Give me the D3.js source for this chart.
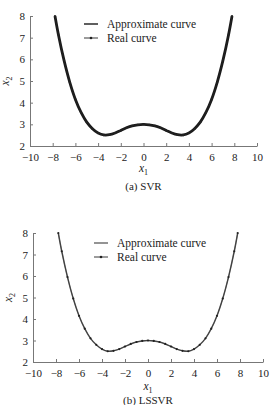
<!DOCTYPE html>
<html>
<head>
<meta charset="utf-8">
<script src="https://cdn.jsdelivr.net/npm/d3@7"></script>
<style>
  body { margin: 0; background: #fff; }
  svg { display: block; font-family: "Liberation Serif", "DejaVu Serif", serif; }
  .axis { font-family: "Liberation Serif", "DejaVu Serif", serif; }
  .axis .tick text { font-size: 11px; fill: #222; }
  .axis path, .axis line { stroke: #777; }
</style>
</head>
<body>
<svg id="chart" width="271" height="405"></svg>
<script>
// data
const xTicks = [-10, -8, -6, -4, -2, 0, 2, 4, 6, 8, 10];
const yTicks = [2, 3, 4, 5, 6, 7, 8];
const xValues = [-7.8, -7.5, -7, -6.5, -6, -5.5, -5, -4.5, -4, -3.5, -3, -2.5, -2, -1.5, -1, -0.5, 0,
                 0.5, 1, 1.5, 2, 2.5, 3, 3.5, 4, 4.5, 5, 5.5, 6, 6.5, 7, 7.5, 7.8];
const realY = [8.0, 7.15, 5.95, 4.95, 4.15, 3.55, 3.1, 2.8, 2.6, 2.5, 2.52, 2.6, 2.72, 2.84, 2.93, 2.98, 3.0,
               2.98, 2.93, 2.84, 2.72, 2.6, 2.52, 2.5, 2.6, 2.8, 3.1, 3.55, 4.15, 4.95, 5.95, 7.15, 8.0];
const svrY = [8.0, 7.15, 5.95, 4.95, 4.15, 3.55, 3.1, 2.8, 2.6, 2.51, 2.52, 2.6, 2.72, 2.84, 2.93, 2.98, 3.0,
              2.98, 2.93, 2.84, 2.72, 2.6, 2.52, 2.51, 2.6, 2.8, 3.1, 3.55, 4.15, 4.95, 5.95, 7.15, 8.0];
const lssvrY = [8.0, 7.15, 5.95, 4.95, 4.15, 3.55, 3.1, 2.8, 2.6, 2.5, 2.52, 2.6, 2.72, 2.84, 2.93, 2.98, 3.0,
                2.98, 2.93, 2.84, 2.72, 2.6, 2.52, 2.5, 2.6, 2.8, 3.1, 3.55, 4.15, 4.95, 5.95, 7.15, 8.0];
const legendLabels = ["Approximate curve", "Real curve"];

const svg = d3.select("#chart");

const panels = [
  { left: 30, right: 257, top: 16, bottom: 146, approx: svrY, caption: "(a)  SVR",
    thick: 2.8, approxColor: "#1a1a1a", realW: 0.8, legendX: 84, legendY: 24, yLabelX: 9, xLabelY: 172, captionY: 190 },
  { left: 33, right: 263, top: 233, bottom: 362, approx: lssvrY, caption: "(b)  LSSVR",
    thick: 1.5, approxColor: "#666", realW: 0.6, legendX: 94, legendY: 243, yLabelX: 12, xLabelY: 390, captionY: 404 }
];

panels.forEach(p => {
  let g = svg.append("g");

  let x = d3.scaleLinear().domain([-10, 10]).range([p.left, p.right]);
  let y = d3.scaleLinear().domain([2, 8]).range([p.bottom, p.top]);

  g.append("g")
    .attr("class", "axis")
    .attr("transform", "translate(0," + p.bottom + ")")
    .call(d3.axisBottom(x).tickValues(xTicks).tickSizeInner(-3).tickSizeOuter(0).tickPadding(7)
      .tickFormat(d => d < 0 ? "\u2212" + Math.abs(d) : d))
    .attr("font-family", null).attr("font-size", null);

  g.append("g")
    .attr("class", "axis")
    .attr("transform", "translate(" + p.left + ",0)")
    .call(d3.axisLeft(y).tickValues(yTicks).tickSizeInner(-3).tickSizeOuter(0).tickPadding(5)
      .tickFormat(d3.format("d")))
    .attr("font-family", null).attr("font-size", null);

  let pts = xValues.map((v, i) => ({ x: v, real: realY[i], approx: p.approx[i] }));

  let line = d3.line().curve(d3.curveCatmullRom);

  // approximate curve
  g.append("path")
    .attr("d", line(pts.map(d => [x(d.x), y(d.approx)])))
    .attr("fill", "none")
    .attr("stroke", p.approxColor)
    .attr("stroke-width", p.thick);

  // real curve with small markers
  g.append("path")
    .attr("d", line(pts.map(d => [x(d.x), y(d.real)])))
    .attr("fill", "none")
    .attr("stroke", "#222")
    .attr("stroke-width", p.realW);

  g.selectAll(".marker")
    .data(pts)
    .enter()
    .append("circle")
    .attr("class", "marker")
    .attr("cx", d => x(d.x))
    .attr("cy", d => y(d.real))
    .attr("r", 1.1)
    .attr("fill", "#222");

  // legend
  legendLabels.forEach((lab, i) => {
    let ly = p.legendY + i * 14;
    g.append("line")
      .attr("x1", p.legendX).attr("x2", p.legendX + 14)
      .attr("y1", ly).attr("y2", ly)
      .attr("stroke", i == 0 ? p.approxColor : "#222")
      .attr("stroke-width", i == 0 ? 1.4 : 0.9);
    if (i == 1) {
      g.append("circle").attr("cx", p.legendX + 7).attr("cy", ly).attr("r", 1.3).attr("fill", "#222");
    }
    g.append("text")
      .attr("x", p.legendX + 23)
      .attr("y", ly + 4)
      .attr("font-size", 11.5)
      .attr("fill", "#222")
      .text(lab);
  });

  // axis titles
  let xl = g.append("text")
    .attr("x", (p.left + p.right) / 2)
    .attr("y", p.xLabelY)
    .attr("text-anchor", "middle")
    .attr("font-size", 11.5)
    .attr("fill", "#222");
  xl.append("tspan").attr("font-style", "italic").text("x");
  xl.append("tspan").attr("font-size", 8).attr("dy", 3).text("1");

  let yl = g.append("text")
    .attr("transform", "translate(" + p.yLabelX + "," + ((p.top + p.bottom) / 2) + ") rotate(-90)")
    .attr("text-anchor", "middle")
    .attr("font-size", 11.5)
    .attr("fill", "#222");
  yl.append("tspan").attr("font-style", "italic").text("x");
  yl.append("tspan").attr("font-size", 8).attr("dy", 3).text("2");

  g.append("text")
    .attr("x", (p.left + p.right) / 2)
    .attr("y", p.captionY)
    .attr("text-anchor", "middle")
    .attr("font-size", 11)
    .attr("fill", "#222")
    .text(p.caption);
});
</script>
</body>
</html>
